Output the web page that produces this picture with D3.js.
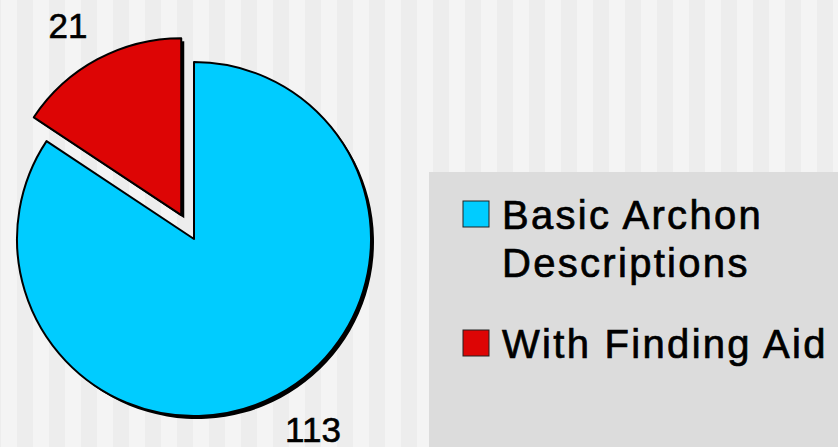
<!DOCTYPE html>
<html>
<head>
<meta charset="utf-8">
<script src="https://cdn.jsdelivr.net/npm/d3@7"></script>
<style>
  body { margin: 0; background: #ededed; }
  svg { display: block; font-family: "Liberation Sans", Arial, sans-serif; }
</style>
</head>
<body>
<div id="chart"></div>
<script>
// chart data
const categories = ["With Finding Aid", "Basic Archon Descriptions"];
const values = [21, 113];
const colors = ["#dd0505", "#00ccff"];
const legendLines = [["Basic Archon", "Descriptions"], ["With Finding Aid"]];
const legendColors = ["#00ccff", "#dd0505"];

const width = 838;
const height = 447;

const svg = d3
  .select("#chart")
  .append("svg")
  .attr("width", width)
  .attr("height", height);

// striped background
const stripes = d3.range(1, width, 32);
svg
  .selectAll(".stripe")
  .data(stripes)
  .enter()
  .append("rect")
  .attr("class", "stripe")
  .attr("x", (d) => d)
  .attr("y", 0)
  .attr("width", 16)
  .attr("height", height)
  .attr("fill", "#f4f4f4");

// pie
const cx = 194;
const cy = 239;
const radius = 177;
const explode = 27;

const pie = d3
  .pie()
  .sort(null)
  .startAngle(-2 * Math.PI * values[0] / d3.sum(values))
  .endAngle(2 * Math.PI - 2 * Math.PI * values[0] / d3.sum(values));
const arcs = pie(values);
const arc = d3.arc().innerRadius(0).outerRadius(radius);

function offset(d, i) {
  if (i !== 0) return [0, 0];
  const mid = (d.startAngle + d.endAngle) / 2;
  return [Math.sin(mid) * explode, -Math.cos(mid) * explode];
}

const g = svg.append("g").attr("transform", "translate(" + cx + "," + cy + ")");

// shadow
g.selectAll(".shadow")
  .data(arcs)
  .enter()
  .append("path")
  .attr("class", "shadow")
  .attr("d", arc)
  .attr("fill", "#000")
  .attr("transform", (d, i) => {
    const o = offset(d, i);
    return "translate(" + (o[0] + 3) + "," + (o[1] + 3) + ")";
  });

g.selectAll(".slice")
  .data(arcs)
  .enter()
  .append("path")
  .attr("class", "slice")
  .attr("d", arc)
  .attr("fill", (d, i) => colors[i])
  .attr("stroke", "#000")
  .attr("stroke-width", 2)
  .attr("stroke-linejoin", "round")
  .attr("transform", (d, i) => {
    const o = offset(d, i);
    return "translate(" + o[0] + "," + o[1] + ")";
  });

// value labels
const labelPos = [[68, 38], [313, 442]];
svg
  .selectAll(".value")
  .data(values)
  .enter()
  .append("text")
  .attr("class", "value")
  .attr("x", (d, i) => labelPos[i][0])
  .attr("y", (d, i) => labelPos[i][1])
  .attr("text-anchor", "middle")
  .attr("font-size", 35)
  .attr("fill", "#000")
  .attr("stroke", "#000")
  .attr("stroke-width", 0.6)
  .text((d) => d);

// legend
svg
  .append("rect")
  .attr("x", 429)
  .attr("y", 172)
  .attr("width", width - 429)
  .attr("height", height - 172)
  .attr("fill", "#dcdcdc");

const legendY = [201, 330];
const items = svg
  .selectAll(".legend-item")
  .data(legendLines)
  .enter()
  .append("g")
  .attr("class", "legend-item");

items
  .append("rect")
  .attr("x", 463)
  .attr("y", (d, i) => legendY[i])
  .attr("width", 26)
  .attr("height", 26)
  .attr("fill", (d, i) => legendColors[i])
  .attr("stroke", "#222")
  .attr("stroke-width", 1);

items
  .append("text")
  .attr("font-size", 40)
  .attr("letter-spacing", 2.3)
  .attr("fill", "#000")
  .attr("stroke", "#000")
  .attr("stroke-width", 0.7)
  .selectAll("tspan")
  .data((d, i) => d.map((t, j) => ({ t: t, y: legendY[i] + 28 + j * 48 })))
  .enter()
  .append("tspan")
  .attr("x", 502)
  .attr("y", (d) => d.y)
  .text((d) => d.t);
</script>
</body>
</html>
